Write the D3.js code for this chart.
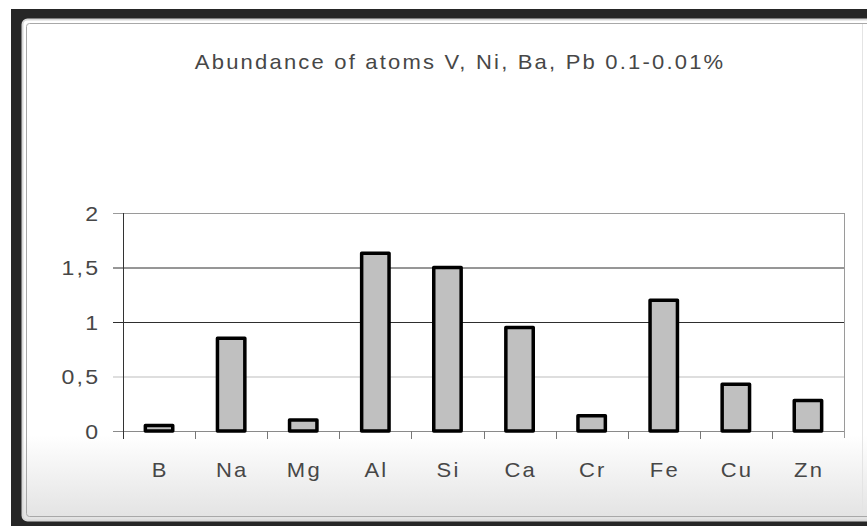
<!DOCTYPE html>
<html>
<head>
<meta charset="utf-8">
<script src="https://cdn.jsdelivr.net/npm/d3@7/dist/d3.min.js"></script>
<style>
  html, body { margin: 0; padding: 0; background: #fff; }
  svg { display: block; }
  text { font-family: "Liberation Sans", Arial, sans-serif; fill: #474747; }
</style>
</head>
<body>
<svg id="chart" width="867" height="526"></svg>
<script>
// Chart data
const title = "Abundance of atoms V, Ni, Ba, Pb 0.1-0.01%";
const elements = ["B", "Na", "Mg", "Al", "Si", "Ca", "Cr", "Fe", "Cu", "Zn"];
const abundance = [0.05, 0.85, 0.1, 1.63, 1.5, 0.95, 0.14, 1.2, 0.43, 0.28];
const yTicks = [0, 0.5, 1, 1.5, 2];
const yTickLabels = ["0", "0,5", "1", "1,5", "2"];

const W = 867, H = 526;
const plot = { left: 123, right: 844, top: 213, bottom: 431 };
const spacing = 2;   // letter spacing used for every label
const widen = 1.1;   // slight horizontal widening of the lettering

const svg = d3.select("#chart");
const defs = svg.append("defs");

const grad = defs.append("linearGradient")
  .attr("id", "panelFill").attr("x1", 0).attr("y1", 0).attr("x2", 0).attr("y2", 1);
grad.append("stop").attr("offset", 0).attr("stop-color", "#ffffff");
grad.append("stop").attr("offset", 0.83).attr("stop-color", "#ffffff");
grad.append("stop").attr("offset", 1).attr("stop-color", "#e2e2e2");

// Dark frame behind the panel
svg.append("rect").attr("x", 11).attr("y", 9).attr("width", W - 11).attr("height", H - 9)
  .attr("fill", "#262626");

// Panel
svg.append("rect").attr("x", 22.5).attr("y", 19.5).attr("width", W + 10).attr("height", 501)
  .attr("rx", 5).attr("fill", "url(#panelFill)").attr("stroke", "#d8d8d8").attr("stroke-width", 2);
svg.append("rect").attr("x", 26.5).attr("y", 23.5).attr("width", W + 10).attr("height", 493)
  .attr("rx", 3).attr("fill", "none").attr("stroke", "#a8a8a8").attr("stroke-width", 1);
svg.append("line").attr("x1", 862.5).attr("x2", 862.5).attr("y1", 24).attr("y2", 516)
  .attr("stroke", "#e4e4e4").attr("stroke-width", 1);

// Helper: widened, letter-spaced text; the trailing gap is offset so anchors stay true
function spacedText(g, x, y, str, anchor, size) {
  const shift = anchor === "end" ? spacing * widen : anchor === "middle" ? spacing * widen / 2 : 0;
  return g.append("text")
    .attr("transform", `translate(${x + shift},${y}) scale(${widen},1)`)
    .attr("text-anchor", anchor)
    .style("font-size", size + "px")
    .style("letter-spacing", spacing + "px")
    .text(str);
}

// Title
spacedText(svg, 459, 69, title, "middle", 20);

// Scales
const x = d3.scaleBand().domain(elements).range([plot.left, plot.right])
  .paddingInner(0.62).paddingOuter(0.31);
const y = d3.scaleLinear().domain([0, 2]).range([plot.bottom, plot.top]);
const step = x.step();

// Gridlines (drawn with a left axis whose ticks span the plot)
const gridColors = { 0: "#8a8a8a", 0.5: "#bdbdbd", 1: "#2e2e2e", 1.5: "#2e2e2e", 2: "#9a9a9a" };
const yAxis = svg.append("g")
  .attr("transform", `translate(${plot.left},0)`)
  .call(d3.axisLeft(y).tickValues(yTicks).tickSizeInner(0).tickSizeOuter(0).tickFormat(""));
yAxis.select(".domain").remove();
yAxis.selectAll(".tick line")
  .attr("x1", -10).attr("x2", plot.right - plot.left)
  .attr("stroke", d => gridColors[d]).attr("stroke-width", 1);

// Y tick labels
const yLab = svg.append("g");
yTicks.forEach((v, i) => {
  spacedText(yLab, 98, y(v) + 7.5, yTickLabels[i], "end", 21);
});

// Right border of plot area
svg.append("line").attr("x1", plot.right + 0.5).attr("x2", plot.right + 0.5)
  .attr("y1", plot.top).attr("y2", plot.bottom + 7)
  .attr("stroke", "#9a9a9a").attr("stroke-width", 1);

// Category boundary ticks below the baseline
const boundaries = elements.slice(1).map(e => x(e) - x.paddingInner() * step / 2);
svg.append("g").selectAll("line").data(boundaries).join("line")
  .attr("x1", d => Math.round(d) + 0.5).attr("x2", d => Math.round(d) + 0.5)
  .attr("y1", plot.bottom).attr("y2", plot.bottom + 8)
  .attr("stroke", "#777").attr("stroke-width", 1);

// Y axis line
svg.append("line").attr("x1", plot.left + 0.5).attr("x2", plot.left + 0.5)
  .attr("y1", plot.top).attr("y2", plot.bottom + 8)
  .attr("stroke", "#333").attr("stroke-width", 1);

// Bars
svg.append("g").selectAll("rect").data(elements).join("rect")
  .attr("x", d => x(d))
  .attr("width", x.bandwidth())
  .attr("y", (d, i) => y(abundance[i]))
  .attr("height", (d, i) => y(0) - y(abundance[i]))
  .attr("fill", "#c0c0c0")
  .attr("stroke", "#000")
  .attr("stroke-width", 3.5)
  .attr("stroke-linejoin", "round");

// X labels
const xLab = svg.append("g");
elements.forEach(e => {
  spacedText(xLab, x(e) + x.bandwidth() / 2, 477, e, "middle", 20);
});
</script>
</body>
</html>
